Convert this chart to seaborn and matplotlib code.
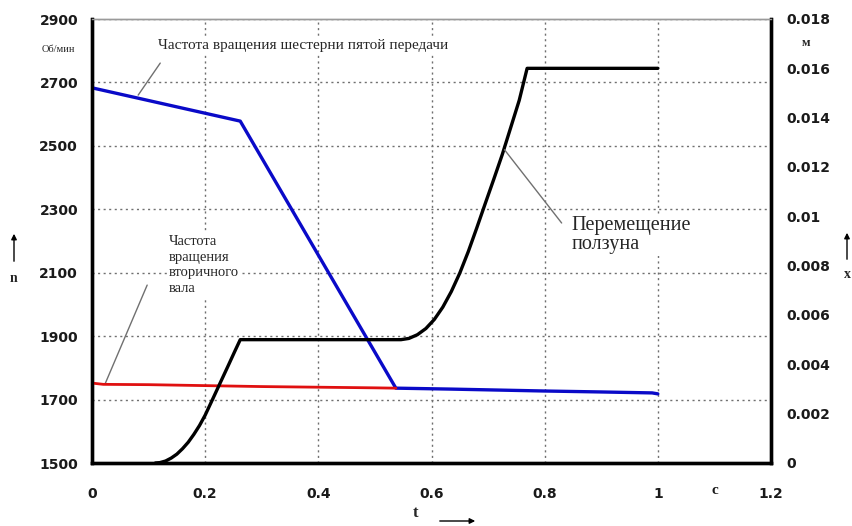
import matplotlib
matplotlib.use("Agg")
import matplotlib.pyplot as plt
import seaborn as sns
import pandas as pd

# ---- data ----
gear_t = [0.0, 0.262, 0.537, 0.635, 0.8, 0.9, 0.99, 1.0]
gear_n = [2683, 2578, 1736, 1733, 1727, 1724, 1721, 1718]

shaft_t = [0.0, 0.02, 0.1, 0.2, 0.3, 0.4, 0.5, 0.537]
shaft_n = [1752, 1748, 1747, 1744, 1741, 1739, 1737, 1736]

slide_t = [0.112, 0.12, 0.13, 0.14, 0.15, 0.16, 0.17, 0.18, 0.19, 0.2, 0.2145, 0.227, 0.24, 0.252, 0.262,
           0.546, 0.56, 0.575, 0.59, 0.605, 0.62, 0.635, 0.65, 0.665, 0.68, 0.695, 0.71,
           0.725, 0.74, 0.755, 0.769, 1.0]
slide_x = [0.0, 0.000016, 0.00008, 0.0002, 0.00036, 0.00058, 0.00084, 0.00116, 0.00152, 0.00194,
           0.00265, 0.00327, 0.00391, 0.00451, 0.005,
           0.005, 0.00505, 0.0052, 0.00545, 0.00582, 0.00632, 0.00695, 0.0077, 0.00857, 0.00953,
           0.01052, 0.0115, 0.0125, 0.0136, 0.0147, 0.016, 0.016]

x_ticks = [0, 0.2, 0.4, 0.6, 0.8, 1.0, 1.2]
x_ticklabels = ["0", "0.2", "0.4", "0.6", "0.8", "1", "1.2"]
n_ticks = [1500, 1700, 1900, 2100, 2300, 2500, 2700, 2900]
x2_ticks = [0, 0.002, 0.004, 0.006, 0.008, 0.01, 0.012, 0.014, 0.016, 0.018]
x2_ticklabels = ["0", "0.002", "0.004", "0.006", "0.008", "0.01", "0.012", "0.014", "0.016", "0.018"]

gear_df = pd.DataFrame({"t": gear_t, "n": gear_n})
shaft_df = pd.DataFrame({"t": shaft_t, "n": shaft_n})
slide_df = pd.DataFrame({"t": slide_t, "x": slide_x})

sns.set_style("white")
plt.rcParams["font.family"] = ["DejaVu Sans"]

W, H = 853, 526
fig = plt.figure(figsize=(W / 100, H / 100), dpi=100)
ax = fig.add_axes([92 / W, 1 - 463 / H, (771 - 92) / W, (463 - 19) / H])
ax2 = ax.twinx()

sns.lineplot(data=gear_df, x="t", y="n", ax=ax, color="#0a0ac8", linewidth=2.4, zorder=5)
sns.lineplot(data=shaft_df, x="t", y="n", ax=ax, color="#e01010", linewidth=2.0, zorder=5)
sns.lineplot(data=slide_df, x="t", y="x", ax=ax2, color="black", linewidth=2.4)

ax.set_xlim(0, 1.2)
ax.set_ylim(1500, 2900)
ax2.set_ylim(0, 0.018)
ax.set_xticks(x_ticks)
ax.set_xticklabels(x_ticklabels)
ax.set_yticks(n_ticks)
ax2.set_yticks(x2_ticks)
ax2.set_yticklabels(x2_ticklabels)
for a in (ax, ax2):
    a.set_xlabel("")
    a.set_ylabel("")

ax.grid(True, color="#707070", linestyle=(0, (1.5, 2.5)), linewidth=1.0)
ax.set_axisbelow(True)
ax.tick_params(axis="both", length=0)
ax.tick_params(axis="y", pad=10)
ax.tick_params(axis="x", pad=17)
ax2.tick_params(axis="y", length=0, pad=11)
for lab in ax.get_xticklabels() + ax.get_yticklabels() + ax2.get_yticklabels():
    lab.set_fontsize(10)
    lab.set_fontweight("bold")
    lab.set_color("#1a1a1a")

for a in (ax, ax2):
    for s in ("left", "bottom", "right"):
        a.spines[s].set_visible(True)
        a.spines[s].set_color("black")
        a.spines[s].set_linewidth(2.4)
    a.spines["top"].set_color("#9a9a9a")
    a.spines["top"].set_linewidth(1.0)

serif = ["Liberation Serif", "DejaVu Serif"]
box = dict(facecolor="white", edgecolor="none", pad=1.5)

ax.text(0.117, 2818, "Частота вращения шестерни пятой передачи", family=serif,
        fontsize=11, va="center", ha="left", zorder=3, bbox=box)
ax.text(0.136, 2125, "Частота\nвращения\nвторичного\nвала", family=serif,
        fontsize=10.5, va="center", ha="left", zorder=3, linespacing=1.25, bbox=box)
ax.text(0.847, 2219, "Перемещение\nползуна", family=serif,
        fontsize=14.5, va="center", ha="left", zorder=3, linespacing=1.0, bbox=box)

# pointer lines
ax.plot([0.1206, 0.0816], [2761, 2660], color="#707070", linewidth=1.0, zorder=4)
ax.plot([0.0975, 0.023], [2061, 1749], color="#707070", linewidth=1.0, zorder=4)
ax2.plot([0.729, 0.83], [0.0127, 0.00973], color="#707070", linewidth=1.0)

# units
ax.text(1.1, -0.062, "c", transform=ax.get_xaxis_transform(), fontsize=11,
        fontweight="bold", family=serif, ha="center", va="center", color="#1a1a1a")
fig.text(58 / W, 1 - 50 / H, "Об/мин", family=serif, fontsize=7.5, ha="center", va="center")
fig.text(806 / W, 1 - 43 / H, "м", family=serif, fontsize=9, fontweight="bold",
         ha="center", va="center")

# axis symbols with arrows
arrow = dict(arrowstyle="-|>", color="black", lw=1.0, mutation_scale=8)
fig.text(14 / W, 1 - 279 / H, "n", family=serif, fontsize=10, fontweight="bold",
         ha="center", va="center")
fig.patches.append(matplotlib.patches.FancyArrowPatch(
    (14 / W, 1 - 264 / H), (14 / W, 1 - 231 / H), transform=fig.transFigure, **arrow))
fig.text(847 / W, 1 - 275 / H, "x", family=serif, fontsize=10, fontweight="bold",
         ha="center", va="center")
fig.patches.append(matplotlib.patches.FancyArrowPatch(
    (847 / W, 1 - 262 / H), (847 / W, 1 - 230 / H), transform=fig.transFigure, **arrow))
fig.text(416 / W, 1 - 513 / H, "t", family=serif, fontsize=12, fontweight="bold",
         ha="center", va="center")
fig.patches.append(matplotlib.patches.FancyArrowPatch(
    (437 / W, 1 - 521 / H), (478 / W, 1 - 521 / H), transform=fig.transFigure, **arrow))

fig.savefig("out.png", dpi=100)
